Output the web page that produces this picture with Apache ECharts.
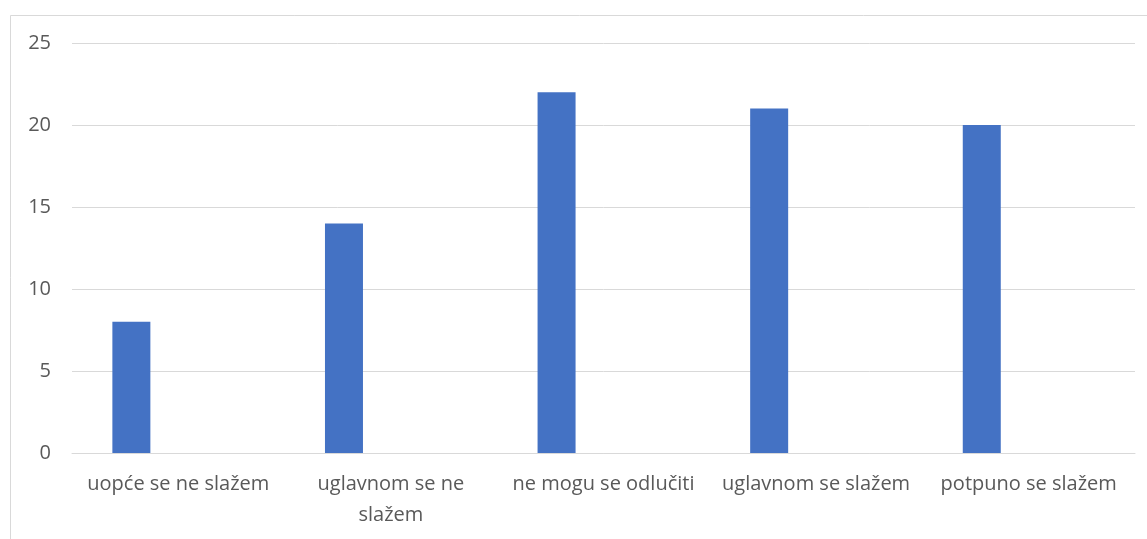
<!DOCTYPE html>
<html>
<head>
<meta charset="utf-8">
<script src="https://cdn.jsdelivr.net/npm/echarts@6/dist/echarts.min.js"></script>
<style>
html,body{margin:0;padding:0;background:#fff;}
#c{width:1147px;height:539px;}
</style>
</head>
<body>
<div id="c"></div>
<script>
const categories = ['uopće se ne slažem', 'uglavnom se ne\nslažem', 'ne mogu se odlučiti', 'uglavnom se slažem', 'potpuno se slažem'];
const values = [8, 14, 22, 21, 20];
const emptySeries = [null, null, null, null, null];
const yTicks = { min: 0, max: 25, interval: 5 };

const chart = echarts.init(document.getElementById('c'), null, { renderer: 'canvas' });
const font = '"Open Sans", "Noto Sans", sans-serif';
chart.setOption({
  animation: false,
  backgroundColor: '#ffffff',
  graphic: [{
    type: 'rect',
    shape: { x: 10.5, y: 15.5, width: 1300, height: 700 },
    style: { fill: 'none', stroke: '#d9d9d9', lineWidth: 1 },
    silent: true
  }],
  grid: { left: 72, right: 12, top: 43, bottom: 86, containLabel: false },
  xAxis: {
    type: 'category',
    data: categories,
    axisLine: { show: true, lineStyle: { color: '#d9d9d9', width: 1 } },
    axisTick: { show: false },
    axisLabel: {
      color: '#595959', fontSize: 20, fontFamily: font,
      margin: 16, lineHeight: 31, interval: 0
    }
  },
  yAxis: {
    type: 'value',
    min: yTicks.min, max: yTicks.max, interval: yTicks.interval,
    axisLine: { show: false },
    axisTick: { show: false },
    splitLine: { lineStyle: { color: '#d9d9d9', width: 1 } },
    axisLabel: { color: '#595959', fontSize: 20, fontFamily: font, margin: 21 }
  },
  series: [
    { type: 'bar', data: values, barWidth: 38, barGap: '147%', itemStyle: { color: '#4472C4' } },
    { type: 'bar', data: emptySeries, barWidth: 38, itemStyle: { color: '#ED7D31' } }
  ]
});
</script>
</body>
</html>
